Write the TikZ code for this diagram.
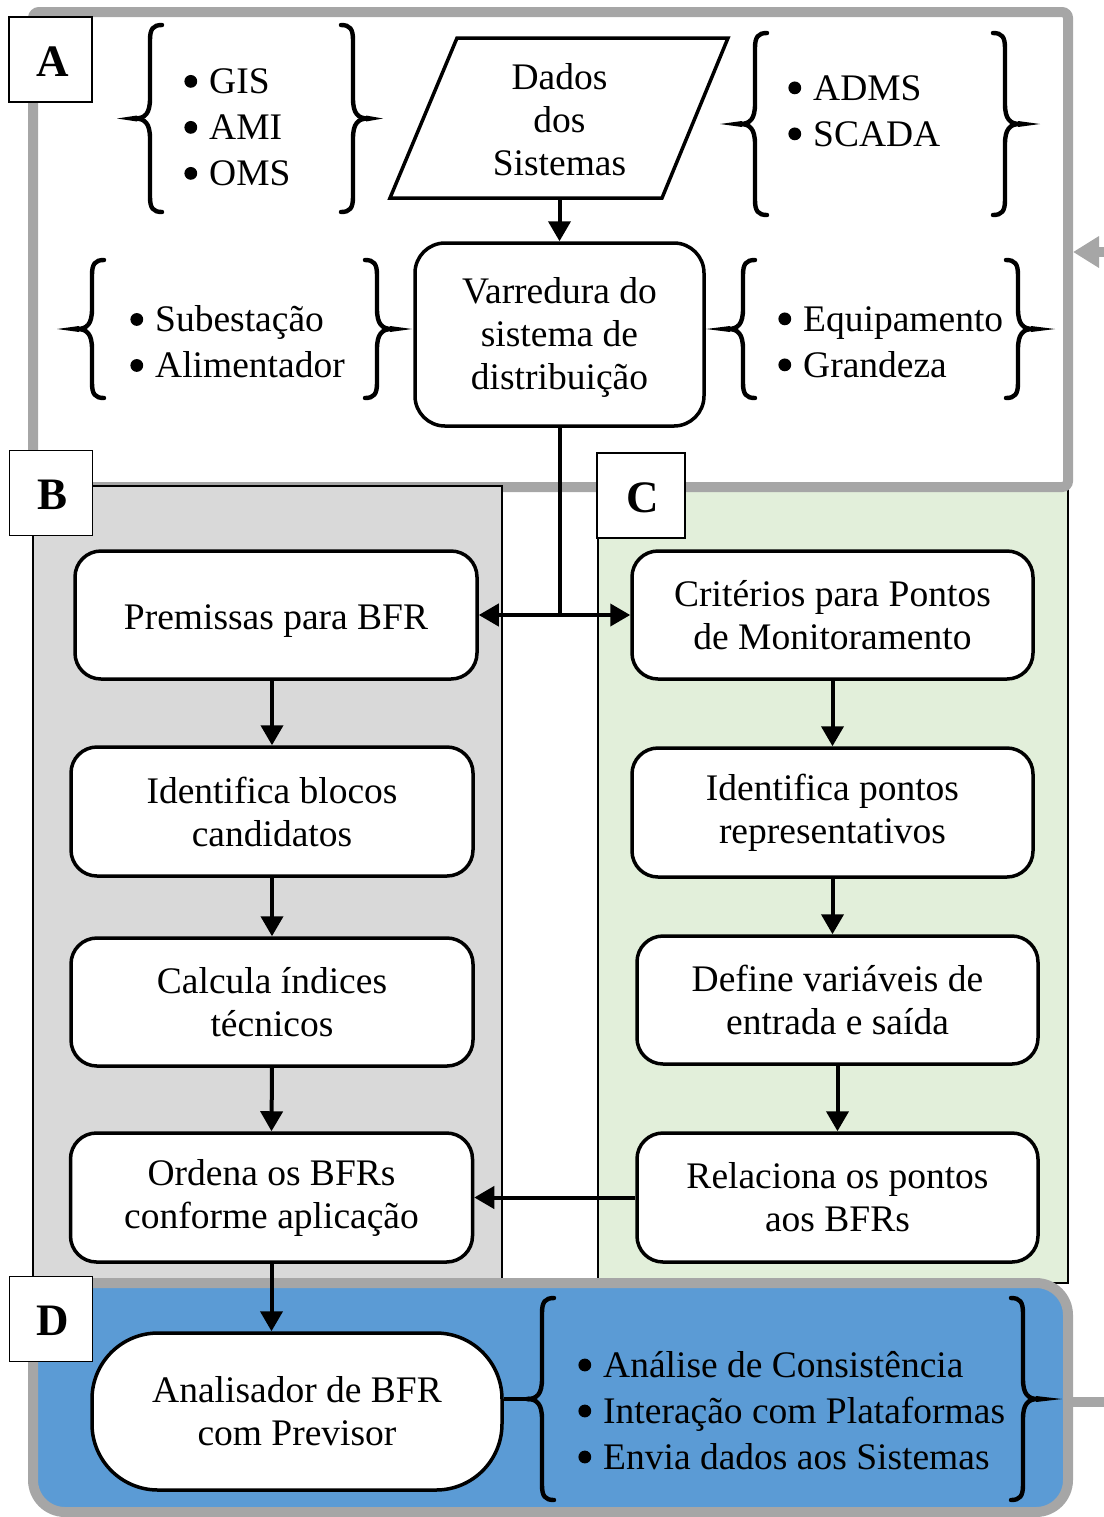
\documentclass[tikz,border=0pt]{standalone}
\usepackage{fontspec}
\setmainfont{Liberation Serif}
\usetikzlibrary{arrows.meta}
\definecolor{framegray}{HTML}{A6A6A6}
\definecolor{panelB}{HTML}{D9D9D9}
\definecolor{panelC}{HTML}{E2EFDA}
\definecolor{panelD}{HTML}{5B9BD5}
% list bullet: a filled disc followed by a gap
\newcommand{\bul}{\tikz[baseline=-0.33em]\fill (0,0) circle[radius=3.2pt];\hspace{6pt}}
% lower the ink of a text without changing the box it reports
\newcommand{\lowered}[2]{\raisebox{-#1}[\height][\depth]{#2}}
% curly brace: #1 x of the stem, #2 top y, #3 bottom y, #4 x of the tip,
% #5 direction of the curled ends (1 = to the right, -1 = to the left)
\newcommand{\CurlyBrace}[5]{%
  \pgfmathsetmacro{\bmid}{(#2+#3)/2}%
  \draw[brc] ({#1+12*(#5)},#2) .. controls ({#1+3*(#5)},#2) and (#1,{#2+4}) .. (#1,{#2+15})
     -- (#1,{\bmid-20}) .. controls (#1,{\bmid-5}) and ({#1-5*(#5)},\bmid) .. ({#1-15*(#5)},\bmid);
  \draw[brc] ({#1+12*(#5)},#3) .. controls ({#1+3*(#5)},#3) and (#1,{#3-4}) .. (#1,{#3-15})
     -- (#1,{\bmid+20}) .. controls (#1,{\bmid+5}) and ({#1-5*(#5)},\bmid) .. ({#1-15*(#5)},\bmid);
  \fill ({#1-13*(#5)},{\bmid-3}) -- (#4,\bmid) -- ({#1-13*(#5)},{\bmid+3}) -- cycle;
}
\begin{document}
\begin{tikzpicture}[x=0.5pt,y=-0.5pt,
  every node/.style={inner sep=0pt},
  txt/.style={font=\fontsize{18.75pt}{21.5pt}\selectfont, align=center},
  lst/.style={font=\fontsize{18.75pt}{23pt}\selectfont, align=left, anchor=west},
  box/.style={txt, draw, line width=1.75pt, fill=white, rounded corners=13pt,
              minimum width=201pt, minimum height=64pt},
  tag/.style={draw, line width=0.7pt, fill=white,
              font=\fontsize{22.5pt}{24pt}\selectfont\bfseries,
              minimum width=41.5pt, minimum height=42.5pt},
  arr/.style={line width=2pt, -{Triangle[length=10pt,width=11pt]}},
  fb/.style={draw=framegray, line width=5pt},
  brc/.style={line width=2.2pt, line cap=round},
  panel/.style={draw, line width=0.7pt},
]
\useasboundingbox (0,0) rectangle (1104,1517);

% ---- panels ----
\node[panel, fill=panelC, minimum width=235pt, minimum height=396.5pt] (cpanel) at (833,886.5) {};
\node[fb, rounded corners=3pt, minimum width=517.5pt, minimum height=237.5pt] (apanel) at (550.5,249.5) {};
\node[panel, fill=panelB, minimum width=234.5pt, minimum height=397pt] (bpanel) at (267.5,883) {};
\node[fb, fill=panelD, rounded corners=16pt, minimum width=517.5pt, minimum height=114.5pt] (dpanel) at (550.5,1397.5) {};

% ---- section tags ----
\node[tag] (tagA) at (50.5,59.5) {\lowered{1pt}{\hspace{2pt}A}};
\node[tag] (tagB) at (51,493) {\lowered{1pt}{\hspace{2pt}B}};
\node[tag, minimum width=44pt] (tagC) at (641,495.5) {\lowered{1pt}{\hspace{2pt}C}};
\node[tag] (tagD) at (51,1319) {\lowered{1pt}{\hspace{2pt}D}};

% ---- block A ----
\draw[line width=1.75pt, fill=white] (457,38) -- (728,38) -- (662,198) -- (390,198) -- cycle;
\node[txt, minimum height=80pt] (dados) at (559.5,120) {Dados\\dos\\Sistemas};
\node[box, minimum width=144.5pt, minimum height=91.5pt, rounded corners=15pt] (var) at (559.5,334.5)
  {\lowered{1.5pt}{\parbox{140pt}{\centering Varredura do\\sistema de\\distribuição}}};

\node[lst] (lsys1) at (184,127.5) {\bul GIS\\\bul AMI\\\bul OMS};
\node[lst] (lsys2) at (788,111) {\bul ADMS\\\bul SCADA};
\node[lst] (lloc) at (130,342) {\bul Subestação\\\bul Alimentador};
\node[lst] (lmed) at (778,342) {\bul Equipamento\\\bul Grandeza};

\CurlyBrace{150}{25}{212}{117}{1}
\CurlyBrace{353}{25}{212}{383}{-1}
\CurlyBrace{755}{33}{215}{720}{1}
\CurlyBrace{1005}{33}{215}{1040}{-1}
\CurlyBrace{92}{260}{398}{57}{1}
\CurlyBrace{377}{260}{398}{412}{-1}
\CurlyBrace{743}{260}{398}{706}{1}
\CurlyBrace{1018}{260}{398}{1055}{-1}

% ---- block B ----
\node[box] (prem) at (276,615) {\lowered{3pt}{Premissas para BFR}};
\node[box, minimum height=64.5pt] (ib) at (272,811.5) {Identifica blocos\\candidatos};
\node[box] (ci) at (272,1002) {Calcula índices\\técnicos};
\node[box, minimum height=64.5pt] (ord) at (271.5,1197.5) {Ordena os BFRs\\conforme aplicação};

% ---- block C ----
\node[box, minimum width=200.5pt] (crit) at (832.5,615) {Critérios para Pontos\\de Monitoramento};
\node[box, minimum width=200.5pt, minimum height=64.5pt] (ip) at (832.5,812.5) {Identifica pontos\\representativos};
\node[box, minimum width=200.5pt] (dv) at (837.5,1000) {Define variáveis de\\entrada e saída};
\node[box, minimum width=200.5pt, minimum height=64.5pt] (rel) at (837.5,1197.5) {Relaciona os pontos\\aos BFRs};

% ---- block D ----
\node[box, minimum width=205pt, minimum height=78.5pt, rounded corners=33pt] (ana) at (297,1411.5)
  {Analisador de BFR\\com Previsor};
\node[lst] (lout) at (578,1410.5) {\bul Análise de Consistência\\\bul Interação com Plataformas\\\bul Envia dados aos Sistemas};
\CurlyBrace{542}{1298}{1500}{528}{1}
\CurlyBrace{1023}{1298}{1500}{1062}{-1}
\coordinate (dtip) at (530,1399);
\draw[line width=2pt] ([yshift=6.25pt]ana.east) -- (dtip);

% ---- connectors ----
\draw[arr] (dados.south) -- (var.north);
\coordinate (split) at (var.south |- prem.east);
\draw[line width=2pt] (var.south) -- (split);
\draw[arr] (split) -- (prem.east);
\draw[arr] (split) -- (split -| crit.west);

\draw[arr] (ib.north |- prem.south) -- (ib.north);
\draw[arr] (ib.south) -- (ci.north);
\draw[arr] (ci.south) -- (ord.north);
\draw[arr] (ord.south) -- (ord.south |- ana.north);

\draw[arr] (crit.south) -- (ip.north);
\draw[arr] (ip.south) -- (ip.south |- dv.north);
\draw[arr] (dv.south) -- (rel.north);
\draw[arr] (rel.west) -- (ord.east);

% ---- feedback loop leaving D and returning into A ----
\coordinate (outR) at (1104,1402);
\draw[fb] (outR -| dpanel.east) -- (outR);
\coordinate (inR) at (1104,252);
\draw[fb, -{Triangle[length=13pt,width=15pt]}] (inR) -- (inR -| apanel.east);
\end{tikzpicture}
\end{document}
